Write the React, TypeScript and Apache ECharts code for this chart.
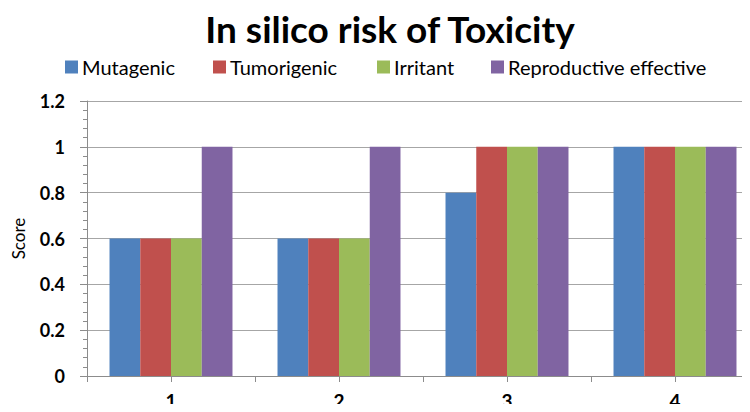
import React, { useEffect, useRef } from "react";
import * as echarts from "echarts";

const categories = ["1", "2", "3", "4"];
const mutagenic = [0.6, 0.6, 0.8, 1];
const tumorigenic = [0.6, 0.6, 1, 1];
const irritant = [0.6, 0.6, 1, 1];
const reproductive = [1, 1, 1, 1];
const seriesNames = ["Mutagenic", "Tumorigenic", "Irritant", "Reproductive effective"];
const colors = ["#4F81BD", "#C0504D", "#9BBB59", "#8064A2"];
const legendLefts = [65, 213, 377, 491];

const FONT = "Lato";

export default function App() {
  const ref = useRef<HTMLDivElement>(null);
  useEffect(() => {
    if (!ref.current) return;
    const chart = echarts.init(ref.current, undefined, { renderer: "svg" });
    const values = [mutagenic, tumorigenic, irritant, reproductive];
    chart.setOption({
      animation: false,
      backgroundColor: "#fff",
      title: {
        text: "In silico risk of Toxicity",
        left: 385,
        textAlign: "center",
        top: 5,
        textStyle: { fontFamily: FONT, fontWeight: "bold", fontSize: 37, color: "#000" },
      },
      legend: seriesNames.map((n, i) => ({
        top: 57,
        left: legendLefts[i],
        padding: 0,
        icon: "rect",
        itemWidth: 13,
        itemHeight: 13,
        itemGap: 0,
        textStyle: { fontFamily: FONT, fontSize: 20, color: "#000", padding: [0, 0, 0, -1] },
        data: [n],
      })),
      grid: { left: 87, width: 672, top: 101, bottom: 36, containLabel: false, outerBoundsMode: "none" },
      xAxis: [
        {
          type: "category",
          data: categories,
          axisLine: { lineStyle: { color: "#8c8c8c", width: 1 } },
          axisTick: { show: true, length: 6, lineStyle: { color: "#8c8c8c" } },
          axisLabel: { fontFamily: FONT, fontWeight: "bold", fontSize: 19, color: "#000", margin: 15 },
        },
        {
          type: "category",
          data: categories,
          position: "bottom",
          axisLine: { show: false },
          axisTick: { show: true, alignWithLabel: true, length: 6, lineStyle: { color: "#8c8c8c" } },
          axisLabel: { show: false },
        },
      ],
      yAxis: {
        type: "value",
        min: 0,
        max: 1.2,
        interval: 0.2,
        name: "Score",
        nameLocation: "middle",
        nameGap: 60,
        nameTextStyle: { fontFamily: FONT, fontSize: 17, color: "#000" },
        axisLine: { show: true, lineStyle: { color: "#8c8c8c" } },
        axisTick: { show: true, length: 7, lineStyle: { color: "#8c8c8c" } },
        minorTick: { show: true, splitNumber: 5, length: 4, lineStyle: { color: "#8c8c8c" } },
        splitLine: { show: true, lineStyle: { color: "#a6a6a6", width: 1 } },
        axisLabel: {
          fontFamily: FONT,
          fontWeight: "bold",
          fontSize: 18,
          color: "#000",
          margin: 22,
          formatter: (v: number) => String(Math.round(v * 10) / 10),
        },
      },
      series: values.map((d, i) => ({
        name: seriesNames[i],
        type: "bar",
        data: d,
        xAxisIndex: 0,
        barGap: "0%",
        barCategoryGap: "26.8%",
        itemStyle: { color: colors[i] },
      })),
    });
    return () => chart.dispose();
  }, []);
  return <div ref={ref} style={{ width: 750, height: 412, margin: -8 }} />;
}
